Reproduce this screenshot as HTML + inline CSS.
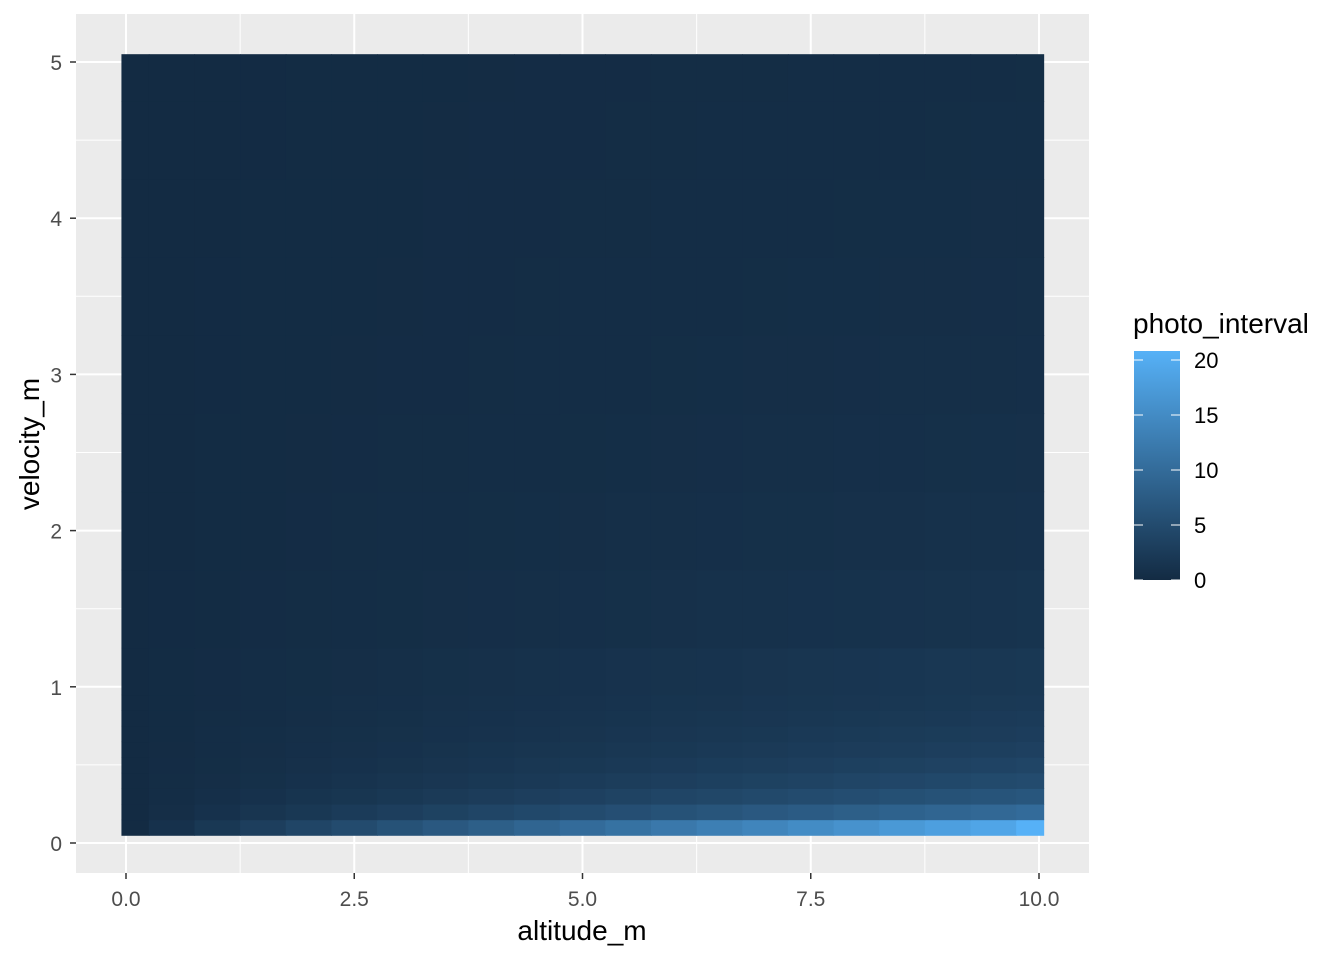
<!DOCTYPE html>
<html><head><meta charset="utf-8"><style>
body{margin:0;background:#fff;}
svg text{font-family:"Liberation Sans",Arial,sans-serif;}
</style></head><body>
<svg id="chart" width="1344" height="960" xmlns="http://www.w3.org/2000/svg">
<defs><linearGradient id="lg" x1="0" y1="1" x2="0" y2="0"><stop offset="0" stop-color="#132B43"/><stop offset="1" stop-color="#56B1F7"/></linearGradient></defs>
<rect x="76" y="14" width="1013" height="859" fill="#EBEBEB"/>
<g id="grid"></g>
<g id="cells"></g>
<g id="axes"></g>
<text x="582" y="940" font-size="28" text-anchor="middle" fill="#000">altitude_m</text>
<text transform="translate(39,444) rotate(-90)" font-size="28" text-anchor="middle" fill="#000">velocity_m</text>
<text x="1133" y="333" font-size="28" fill="#000">photo_interval</text>
<rect x="1134" y="351" width="46" height="229" fill="url(#lg)"/>
<g id="legend"></g>
</svg>
<script>
const altitudes=[0,0.5,1,1.5,2,2.5,3,3.5,4,4.5,5,5.5,6,6.5,7,7.5,8,8.5,9,9.5,10];
const velocities=[0.1,0.2,0.3,0.4,0.5,0.6,0.7,0.8,0.9,1.0,1.5,2,2.5,3,3.5,4,4.5,5];
const values=[
[0,1,2,3,4,5,6,7,8,9,10,11,12,13,14,15,16,17,18,19,20.8],
[0,0.5,1,1.5,2,2.5,3,3.5,4,4.5,5,5.5,6,6.5,7,7.5,8,8.5,9,9.5,10],
[0,0.33,0.67,1,1.33,1.67,2,2.33,2.67,3,3.33,3.67,4,4.33,4.67,5,5.33,5.67,6,6.33,6.67],
[0,0.25,0.5,0.75,1,1.25,1.5,1.75,2,2.25,2.5,2.75,3,3.25,3.5,3.75,4,4.25,4.5,4.75,5],
[0,0.2,0.4,0.6,0.8,1,1.2,1.4,1.6,1.8,2,2.2,2.4,2.6,2.8,3,3.2,3.4,3.6,3.8,4],
[0,0.17,0.33,0.5,0.67,0.83,1,1.17,1.33,1.5,1.67,1.83,2,2.17,2.33,2.5,2.67,2.83,3,3.17,3.33],
[0,0.14,0.29,0.43,0.57,0.71,0.86,1,1.14,1.29,1.43,1.57,1.71,1.86,2,2.14,2.29,2.43,2.57,2.71,2.86],
[0,0.13,0.25,0.38,0.5,0.63,0.75,0.88,1,1.13,1.25,1.38,1.5,1.63,1.75,1.88,2,2.13,2.25,2.38,2.5],
[0,0.11,0.22,0.33,0.44,0.56,0.67,0.78,0.89,1,1.11,1.22,1.33,1.44,1.56,1.67,1.78,1.89,2,2.11,2.22],
[0,0.1,0.2,0.3,0.4,0.5,0.6,0.7,0.8,0.9,1,1.1,1.2,1.3,1.4,1.5,1.6,1.7,1.8,1.9,2],
[0,0.07,0.13,0.2,0.27,0.33,0.4,0.47,0.53,0.6,0.67,0.73,0.8,0.87,0.93,1,1.07,1.13,1.2,1.27,1.33],
[0,0.05,0.1,0.15,0.2,0.25,0.3,0.35,0.4,0.45,0.5,0.55,0.6,0.65,0.7,0.75,0.8,0.85,0.9,0.95,1],
[0,0.04,0.08,0.12,0.16,0.2,0.24,0.28,0.32,0.36,0.4,0.44,0.48,0.52,0.56,0.6,0.64,0.68,0.72,0.76,0.8],
[0,0.03,0.07,0.1,0.13,0.17,0.2,0.23,0.27,0.3,0.33,0.37,0.4,0.43,0.47,0.5,0.53,0.57,0.6,0.63,0.67],
[0,0.03,0.06,0.09,0.11,0.14,0.17,0.2,0.23,0.26,0.29,0.31,0.34,0.37,0.4,0.43,0.46,0.49,0.51,0.54,0.57],
[0,0.03,0.05,0.08,0.1,0.13,0.15,0.18,0.2,0.23,0.25,0.28,0.3,0.33,0.35,0.38,0.4,0.43,0.45,0.48,0.5],
[0,0.02,0.04,0.07,0.09,0.11,0.13,0.16,0.18,0.2,0.22,0.24,0.27,0.29,0.31,0.33,0.36,0.38,0.4,0.42,0.44],
[0,0.02,0.04,0.06,0.08,0.1,0.12,0.14,0.16,0.18,0.2,0.22,0.24,0.26,0.28,0.3,0.32,0.34,0.36,0.38,0.4]
];
const xTicks=[0,2.5,5,7.5,10];
const xTickLabels=["0.0","2.5","5.0","7.5","10.0"];
const yTicks=[0,1,2,3,4,5];
const yTickLabels=["0","1","2","3","4","5"];
const legendTicks=[0,5,10,15,20];
const colorMax=20.8;

const NS="http://www.w3.org/2000/svg";
const xs=v=>126+v*(1039-126)/10;
const ys=v=>843-v*(843-62)/5;
const ls=v=>580-v*(220/20);
function col(v){const t=Math.max(0,Math.min(1,v/colorMax));
 const a=[19,43,67],b=[86,177,247];
 return "rgb("+a.map((c,i)=>Math.round(c+(b[i]-c)*t)).join(",")+")";}
function mk(tag,attrs,parent){const e=document.createElementNS(NS,tag);for(const k in attrs)e.setAttribute(k,attrs[k]);parent.appendChild(e);return e;}
const grid=document.getElementById('grid');
for(let i=0;i<xTicks.length;i++){
 mk('line',{x1:xs(xTicks[i]),x2:xs(xTicks[i]),y1:14,y2:873,stroke:'#fff','stroke-width':2},grid);
 if(i<xTicks.length-1){const m=(xTicks[i]+xTicks[i+1])/2;mk('line',{x1:xs(m),x2:xs(m),y1:14,y2:873,stroke:'#fff','stroke-width':1},grid);}
}
for(let i=0;i<yTicks.length;i++){
 mk('line',{x1:76,x2:1089,y1:ys(yTicks[i]),y2:ys(yTicks[i]),stroke:'#fff','stroke-width':2},grid);
 if(i<yTicks.length-1){const m=(yTicks[i]+yTicks[i+1])/2;mk('line',{x1:76,x2:1089,y1:ys(m),y2:ys(m),stroke:'#fff','stroke-width':1},grid);}
}
const cells=document.getElementById('cells');
function edges(arr,half){const e=[arr[0]-half];for(let i=0;i<arr.length-1;i++)e.push((arr[i]+arr[i+1])/2);e.push(arr[arr.length-1]+half);return e;}
const xe=edges(altitudes,0.05), ye=edges(velocities,0.05);
for(let r=0;r<velocities.length;r++){for(let c=0;c<altitudes.length;c++){
 const x0=xs(xe[c]),x1=xs(xe[c+1]),y0=ys(ye[r+1]),y1=ys(ye[r]);
 const el=mk('rect',{x:x0,y:y0,width:x1-x0+0.6,height:y1-y0+0.6,fill:col(values[r][c])},cells);
 
 
}}
const axes=document.getElementById('axes');
xTicks.forEach((v,i)=>{
 mk('line',{x1:xs(v),x2:xs(v),y1:873,y2:879,stroke:'#333','stroke-width':1.5},axes);
 const t=mk('text',{x:xs(v),y:906,'font-size':21,'text-anchor':'middle',fill:'#4D4D4D'},axes);t.textContent=xTickLabels[i];
 
 
});
yTicks.forEach((v,i)=>{
 mk('line',{x1:70,x2:76,y1:ys(v),y2:ys(v),stroke:'#333','stroke-width':1.5},axes);
 const t=mk('text',{x:62,y:ys(v)+8,'font-size':21,'text-anchor':'end',fill:'#4D4D4D'},axes);t.textContent=yTickLabels[i];
 
 
});
const lg=document.getElementById('legend');
legendTicks.forEach(v=>{
 mk('line',{x1:1134,x2:1143,y1:ls(v),y2:ls(v),stroke:'#fff','stroke-width':1},lg);
 mk('line',{x1:1171,x2:1180,y1:ls(v),y2:ls(v),stroke:'#fff','stroke-width':1},lg);
 const t=mk('text',{x:1194,y:ls(v)+8,'font-size':22,fill:'#000'},lg);t.textContent=String(v);
 
 
});
</script>
</body></html>
